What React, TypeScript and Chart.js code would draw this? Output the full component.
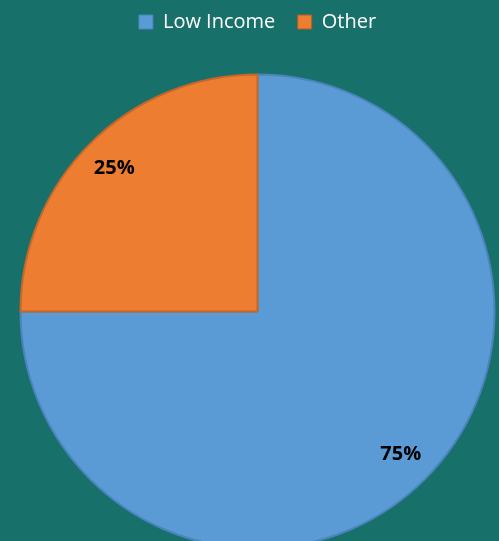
import React, { useEffect, useRef } from "react";
import { Chart, registerables } from "chart.js";
Chart.register(...registerables);

const categories = ["Low Income", "Other"];
const values = [75, 25];
const percentLabels = ["75%", "25%"];

const BG = "#17706A";

const labelPlugin = {
  id: "sliceLabels",
  afterDatasetsDraw(chart: any) {
    const ctx = chart.ctx;
    const meta = chart.getDatasetMeta(0);
    ctx.save();
    ctx.font = "bold 20px 'Open Sans'";
    ctx.fillStyle = "#000";
    ctx.textAlign = "center";
    ctx.textBaseline = "middle";
    meta.data.forEach((arc: any, i: number) => {
      const p = arc.getProps(["x", "y", "startAngle", "endAngle", "outerRadius"], true);
      const mid = (p.startAngle + p.endAngle) / 2;
      const r = p.outerRadius * 0.855;
      ctx.fillText(percentLabels[i], p.x + Math.cos(mid) * r, p.y + Math.sin(mid) * r);
    });
    ctx.restore();
  },
};

const bgPlugin = {
  id: "bg",
  beforeDraw(chart: any) {
    const ctx = chart.ctx;
    ctx.save();
    ctx.fillStyle = BG;
    ctx.fillRect(0, 0, chart.width, chart.height);
    ctx.restore();
  },
};

export default function App() {
  const ref = useRef<HTMLCanvasElement>(null);
  useEffect(() => {
    document.body.style.margin = "0";
    document.body.style.background = BG;
    const chart = new Chart(ref.current!, {
      type: "pie",
      data: {
        labels: categories,
        datasets: [
          {
            data: values,
            backgroundColor: ["#5B9BD5", "#ED7D31"],
            borderColor: ["#4A84BC", "#C6672A"],
            borderWidth: 2,
            radius: 237,
          },
        ],
      },
      options: {
        responsive: false,
        animation: false,
        layout: { padding: { top: 0, bottom: 0, left: 16, right: 0 } },
        plugins: {
          tooltip: { enabled: false },
          legend: {
            position: "top",
            labels: {
              color: "#FFFFFF",
              font: { family: "'Open Sans'", size: 20 },
              boxWidth: 14,
              boxHeight: 14,
              padding: 12,
              generateLabels: (chart: any) => {
                const cols = ["#5B9BD5", "#ED7D31"];
                const borders = ["#4A84BC", "#B35E22"];
                return categories.map((c, i) => ({
                  text: i === 0 ? c + "  " : c,
                  fillStyle: cols[i],
                  strokeStyle: borders[i],
                  lineWidth: 1,
                  fontColor: "#FFFFFF",
                  hidden: false,
                  index: i,
                }));
              },
            },
          },
        },
      },
      plugins: [bgPlugin, labelPlugin],
    });
    return () => chart.destroy();
  }, []);
  return (
    <div style={{ width: 499, height: 541, background: BG, overflow: "hidden" }}>
      <canvas ref={ref} width={499} height={581} style={{ display: "block" }} />
    </div>
  );
}
